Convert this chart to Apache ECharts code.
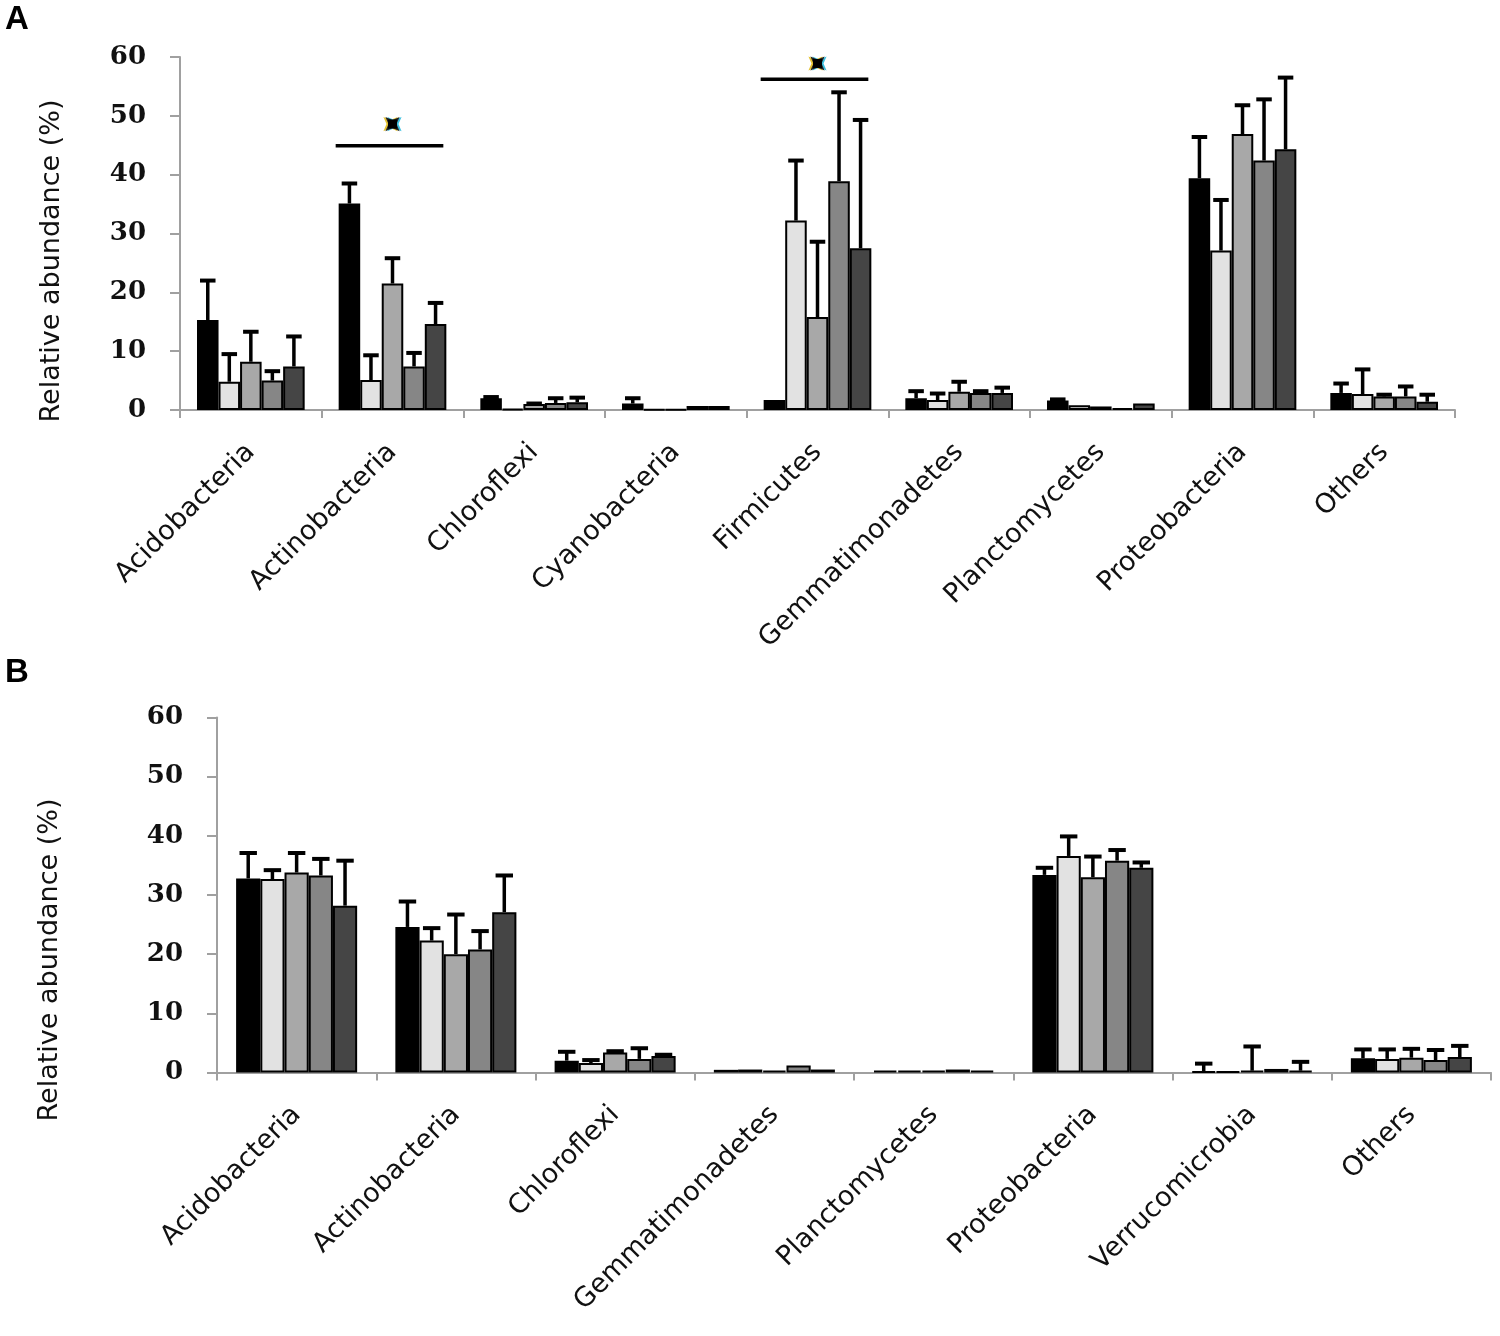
<!DOCTYPE html>
<html>
<head>
<meta charset="utf-8">
<script src="https://cdn.jsdelivr.net/npm/echarts@6/dist/echarts.min.js"></script>
<style>html,body{margin:0;padding:0;background:#fff;}#c{width:1500px;height:1336px;}</style>
</head>
<body>
<div id="c"></div>
<script>
// ---------- DATA ----------
const catsA = ['Acidobacteria','Actinobacteria','Chloroflexi','Cyanobacteria','Firmicutes','Gemmatimonadetes','Planctomycetes','Proteobacteria','Others'];
const catsB = ['Acidobacteria','Actinobacteria','Chloroflexi','Gemmatimonadetes','Planctomycetes','Proteobacteria','Verrucomicrobia','Others'];
const yTicks = [0,10,20,30,40,50,60];
const seriesNames = ['S1','S2','S3','S4','S5'];

// Panel A means and SDs per series
const a1 = [15.3, 35.1, 2.0, 1.1, 1.7, 2.0, 1.6, 39.4, 2.9];
const a1sd = [6.7, 3.4, 0.2, 0.9, 0, 1.2, 0.2, 7.0, 1.6];
const a2 = [4.8, 5.1, 0.2, 0.1, 32.2, 1.7, 0.8, 27.1, 2.7];
const a2sd = [4.7, 4.2, 0, 0, 10.2, 1.1, 0, 8.6, 4.2];
const a3 = [8.2, 21.5, 1.0, 0.1, 15.8, 3.1, 0.6, 46.9, 2.3];
const a3sd = [5.1, 4.3, 0.1, 0, 12.8, 1.7, 0, 4.9, 0.3];
const a4 = [5.0, 7.4, 1.2, 0.7, 38.9, 2.9, 0.3, 42.4, 2.3];
const a4sd = [1.6, 2.3, 0.8, 0, 15.1, 0.3, 0, 10.4, 1.7];
const a5 = [7.4, 14.6, 1.3, 0.7, 27.5, 2.9, 1.1, 44.3, 1.4];
const a5sd = [5.1, 3.6, 0.8, 0, 21.8, 0.9, 0, 12.2, 1.2];

// Panel B means and SDs per series
const b1 = [32.8, 24.6, 2.0, 0.45, 0.3, 33.4, 0.2, 2.4];
const b1sd = [4.3, 4.3, 1.5, 0, 0, 1.2, 1.3, 1.5];
const b2 = [32.7, 22.3, 1.6, 0.5, 0.3, 36.6, 0.2, 2.3];
const b2sd = [1.5, 2.1, 0.5, 0, 0, 3.3, 0, 1.6];
const b3 = [33.8, 20.0, 3.4, 0.3, 0.3, 33.0, 0.3, 2.5];
const b3sd = [3.3, 6.7, 0.2, 0, 0, 3.5, 4.1, 1.5];
const b4 = [33.3, 20.8, 2.3, 1.2, 0.5, 35.8, 0.6, 2.1];
const b4sd = [2.8, 3.1, 1.8, 0, 0, 1.8, 0, 1.7];
const b5 = [28.2, 27.1, 2.8, 0.5, 0.3, 34.6, 0.3, 2.6];
const b5sd = [7.6, 6.2, 0.2, 0, 0, 0.9, 1.5, 1.9];

// Significance annotations in panel A: [category index, line value, star value]
const sigA = [[1, 44.9, 48.6], [4, 56.2, 58.9]];

// ---------- STYLE ----------
const colors = ['#000000','#e2e2e2','#a8a8a8','#868686','#454545'];
const GAP = 0.24;
const axisGray = '#a0a0a0';

const meansA = [a1,a2,a3,a4,a5], sdsA = [a1sd,a2sd,a3sd,a4sd,a5sd];
const meansB = [b1,b2,b3,b4,b5], sdsB = [b1sd,b2sd,b3sd,b4sd,b5sd];

function xAxisFor(cats, gi){
  return {
    type:'category', data:cats, gridIndex:gi,
    axisLine:{lineStyle:{color:axisGray, width:2}},
    axisTick:{show:true, alignWithLabel:false, length:8, lineStyle:{color:axisGray, width:2}},
    axisLabel:{rotate:45, interval:0, margin:38, color:'#111', fontFamily:'DejaVu Sans', fontSize:27}
  };
}
function yAxisFor(gi){
  return {
    type:'value', gridIndex:gi, min:0, max:60, interval:10,
    splitLine:{show:false},
    axisLine:{show:true, lineStyle:{color:axisGray, width:2}},
    axisTick:{show:true, length:10, lineStyle:{color:axisGray, width:2}},
    axisLabel:{margin:34, color:'#111', fontFamily:'DejaVu Serif', fontWeight:'bold', fontSize:26,
      formatter: v => yTicks.indexOf(v) >= 0 ? String(v) : ''}
  };
}

const series = [];
function addPanel(means, sds, gi){
  means.forEach((m, i) => {
    series.push({
      type:'bar', name:seriesNames[i], xAxisIndex:gi, yAxisIndex:gi, data:m,
      barGap:'0%', barCategoryGap:(GAP*100)+'%',
      itemStyle:{color:colors[i], borderColor:'#000', borderWidth:2},
      silent:true, z:2
    });
  });
  means.forEach((m, i) => {
    const data = m.map((v, k) => [k, v, sds[i][k]]).filter(d => d[2] > 0);
    series.push({
      type:'custom', xAxisIndex:gi, yAxisIndex:gi, data:data, z:5, silent:true,
      encode:{x:0, y:1},
      renderItem:(params, api) => {
        const k = api.value(0), v = api.value(1), sd = api.value(2);
        const band = api.size([1,0])[0];
        const group = band*(1-GAP);
        const bw = group/5;
        const base = api.coord([k, v]);
        const top = api.coord([k, v+sd]);
        const x = base[0] - group/2 + bw*(i+0.5);
        const cap = bw*0.72;
        return {type:'group', children:[
          {type:'line', shape:{x1:x, y1:base[1], x2:x, y2:top[1]}, style:{stroke:'#000', lineWidth:3.5}},
          {type:'line', shape:{x1:x-cap/2, y1:top[1], x2:x+cap/2, y2:top[1]}, style:{stroke:'#000', lineWidth:4}}
        ]};
      }
    });
  });
}
addPanel(meansA, sdsA, 0);
addPanel(meansB, sdsB, 1);

// significance lines and stars
series.push({
  type:'custom', xAxisIndex:0, yAxisIndex:0, data:sigA, z:6, silent:true,
  encode:{x:0, y:1},
  renderItem:(params, api) => {
    const k = api.value(0), lv = api.value(1), sv = api.value(2);
    const band = api.size([1,0])[0];
    const half = band*(1-GAP)/2;
    const p = api.coord([k, lv]);
    const s = api.coord([k, sv]);
    const r = 10, ri = 4;
    const pts = [];
    for (let j=0;j<8;j++){
      const ang = Math.PI/4*j + Math.PI/4;
      const rr = (j%2===0) ? r : ri;
      pts.push([s[0] + rr*Math.cos(ang), s[1] + rr*Math.sin(ang)]);
    }
    return {type:'group', children:[
      {type:'line', shape:{x1:p[0]-half-3, y1:p[1], x2:p[0]+half-3, y2:p[1]}, style:{stroke:'#000', lineWidth:3.5}},
      {type:'polygon', shape:{points:pts.map(q=>[q[0]-2,q[1]])}, style:{fill:'#e5c230'}},
      {type:'polygon', shape:{points:pts.map(q=>[q[0]+2,q[1]])}, style:{fill:'#3cc0e0'}},
      {type:'polygon', shape:{points:pts}, style:{fill:'#222'}},
      {type:'rect', shape:{x:s[0]-4.5, y:s[1]-4.5, width:9, height:9}, style:{fill:'#000'}}
    ]};
  }
});

const option = {
  backgroundColor:'#fff',
  animation:false,
  grid:[
    {left:180, right:45, top:57, height:353, containLabel:false},
    {left:217, right:9, top:717.5, height:355, containLabel:false}
  ],
  xAxis:[xAxisFor(catsA,0), xAxisFor(catsB,1)],
  yAxis:[yAxisFor(0), yAxisFor(1)],
  series:series,
  graphic:[
    {type:'text', left:5, top:3, style:{text:'A', fontFamily:'Liberation Sans', fontWeight:'bold', fontSize:33, fill:'#000'}},
    {type:'text', left:5, top:656, style:{text:'B', fontFamily:'Liberation Sans', fontWeight:'bold', fontSize:33, fill:'#000'}},
    {type:'text', x:52, y:261, rotation:Math.PI/2, style:{text:'Relative abundance (%)', fontFamily:'DejaVu Sans', fontSize:27, fill:'#111', align:'center', verticalAlign:'middle'}},
    {type:'text', x:50, y:960, rotation:Math.PI/2, style:{text:'Relative abundance (%)', fontFamily:'DejaVu Sans', fontSize:27, fill:'#111', align:'center', verticalAlign:'middle'}}
  ]
};
const chart = echarts.init(document.getElementById('c'), null, {renderer:'canvas'});
chart.setOption(option);
</script>
</body>
</html>
